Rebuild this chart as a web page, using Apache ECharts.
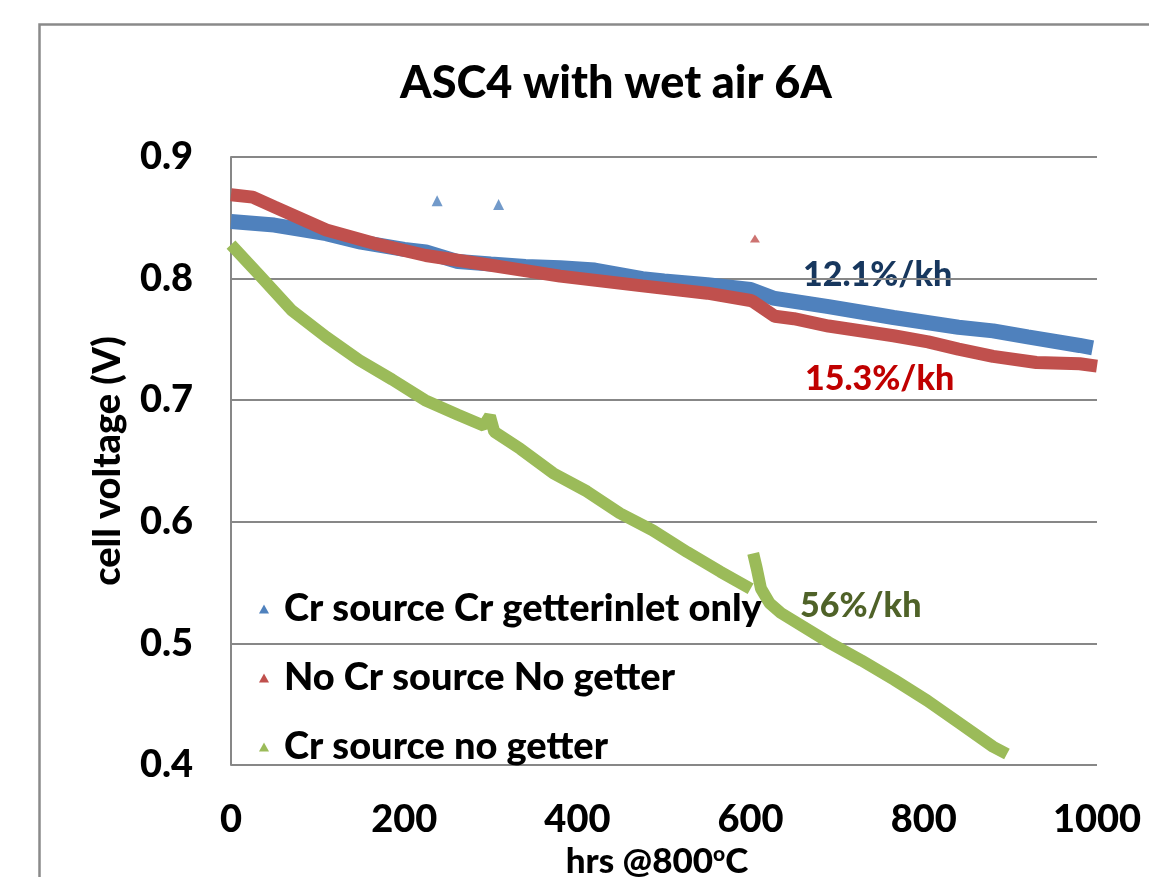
<!DOCTYPE html>
<html>
<head>
<meta charset="utf-8">
<style>
  html, body { margin: 0; padding: 0; background: #fff; }
  #chart { width: 1149px; height: 877px; }
</style>
<script src="https://cdn.jsdelivr.net/npm/echarts@6/dist/echarts.min.js"></script>
</head>
<body>
<div id="chart"></div>
<script>
// series names
var seriesNames = ['Cr source Cr getterinlet only', 'No Cr source No getter', 'Cr source no getter'];

// Cr source, Cr getter inlet only (blue)
var hoursBlue = [0, 50, 110, 150, 200, 225, 262, 300, 340, 380, 420, 475, 500, 550, 600, 626, 690, 765, 840, 880, 920, 980, 995];
var voltBlue = [0.847, 0.844, 0.837, 0.830, 0.824, 0.822, 0.814, 0.812, 0.810, 0.809, 0.807, 0.800, 0.798, 0.795, 0.791, 0.784, 0.777, 0.768, 0.760, 0.757, 0.752, 0.745, 0.743];

// No Cr source, no getter (red)
var hoursRed = [0, 25, 50, 110, 165, 225, 300, 380, 475, 550, 600, 603, 628, 650, 690, 765, 805, 840, 880, 930, 980, 1000];
var voltRed = [0.869, 0.867, 0.859, 0.840, 0.829, 0.819, 0.811, 0.802, 0.794, 0.788, 0.782, 0.781, 0.769, 0.767, 0.761, 0.753, 0.748, 0.742, 0.736, 0.731, 0.730, 0.728];

// Cr source, no getter (green); null marks the restart gap near 600 h
var hoursGreen = [0, 30, 70, 110, 148, 186, 224, 262, 292, 299, 304, 334, 372, 411, 449, 487, 527, 565, 600,
                  601,
                  603, 607, 612, 622, 635, 690, 728, 766, 804, 842, 880, 896];
var voltGreen = [0.828, 0.805, 0.774, 0.752, 0.733, 0.717, 0.700, 0.688, 0.679, 0.687, 0.674, 0.660, 0.640, 0.625, 0.607, 0.593, 0.575, 0.559, 0.545,
                 null,
                 0.574, 0.562, 0.545, 0.533, 0.525, 0.501, 0.486, 0.470, 0.453, 0.434, 0.415, 0.409];

// stray points
var blueOutHours = [238, 309];
var blueOutVolts = [0.864, 0.861];
var redOutHours = [605];
var redOutVolts = [0.833];

var blue = '#4F81BD', red = '#C0504D', green = '#9BBB59';
var gridGray = '#878787';
var font = 'Lato, "Open Sans", sans-serif';

function pairs(xs, ys) {
  return xs.map(function(x, i) { return [x, ys[i] == null ? '-' : ys[i]]; });
}

var chart = echarts.init(document.getElementById('chart'), null, { renderer: 'canvas' });
chart.setOption({
  animation: false,
  backgroundColor: '#fff',
  textStyle: { fontFamily: font },
  title: {
    text: 'ASC4 with wet air 6A',
    left: 611, top: 56, textAlign: 'center',
    textStyle: { fontFamily: font, fontWeight: 900, fontSize: 45, color: '#000' }
  },
  grid: { left: 231, top: 157, right: 52, bottom: 112, containLabel: false, outerBoundsMode: 'none' },
  legend: {
    orient: 'vertical',
    left: 254, top: 585,
    data: seriesNames,
    icon: 'triangle',
    itemWidth: 10, itemHeight: 9,
    itemGap: 31,
    textStyle: { fontFamily: font, fontWeight: 900, fontSize: 38, color: '#000', padding: [0, 0, 0, 10] }
  },
  xAxis: {
    type: 'value', min: 0, max: 1000, interval: 200,
    axisLine: { show: false },
    axisTick: { show: false },
    splitLine: { show: false },
    axisLabel: {
      fontFamily: font, fontWeight: 900, fontSize: 38, color: '#000', margin: 36,
      formatter: function(v) { return String(v); }
    },
    name: 'hrs @800{sup|o}C',
    nameLocation: 'middle', nameGap: 77,
    nameTextStyle: {
      fontFamily: font, fontWeight: 900, fontSize: 35, color: '#000', padding: [0, 14, 0, 0],
      rich: { sup: { fontFamily: font, fontWeight: 900, fontSize: 21, color: '#000', verticalAlign: 'top', padding: [0, 0, 14, 0] } }
    }
  },
  yAxis: {
    type: 'value', min: 0.4, max: 0.9, interval: 0.1,
    axisLine: { show: true, lineStyle: { color: gridGray, width: 2 } },
    axisTick: { show: false },
    splitLine: { show: true, lineStyle: { color: gridGray, width: 2 } },
    axisLabel: {
      fontFamily: font, fontWeight: 900, fontSize: 38, color: '#000', margin: 38,
      formatter: function(v) { return v.toFixed(1); }
    },
    name: 'cell voltage (V)',
    nameLocation: 'middle', nameGap: 104,
    nameTextStyle: { fontFamily: font, fontWeight: 900, fontSize: 38, color: '#000' }
  },
  series: [
    {
      name: seriesNames[0], type: 'line', showSymbol: false, clip: false,
      data: pairs(hoursBlue, voltBlue),
      itemStyle: { color: blue },
      lineStyle: { color: blue, width: 15 }
    },
    {
      name: seriesNames[1], type: 'line', showSymbol: false, clip: false,
      data: pairs(hoursRed, voltRed),
      itemStyle: { color: red },
      lineStyle: { color: red, width: 13 }
    },
    {
      name: seriesNames[2], type: 'line', showSymbol: false, clip: false,
      connectNulls: false,
      data: pairs(hoursGreen, voltGreen),
      itemStyle: { color: green },
      lineStyle: { color: green, width: 12 }
    },
    {
      name: 'blue stray', type: 'scatter', symbol: 'triangle', symbolSize: 11,
      data: pairs(blueOutHours, blueOutVolts),
      itemStyle: { color: blue }
    },
    {
      name: 'red stray', type: 'scatter', symbol: 'triangle', symbolSize: [10, 8],
      data: pairs(redOutHours, redOutVolts),
      itemStyle: { color: red }
    }
  ],
  graphic: [
    // outer chart frame (runs off the page on the right and bottom)
    { type: 'rect', left: 37, top: 22, shape: { width: 1200, height: 900 }, style: { fill: 'none', stroke: '#8a8a8a', lineWidth: 2.5 }, z: -10 },
    { type: 'text', left: 803, top: 258, style: { text: '12.1%/kh', fill: '#17375E', font: '900 34px ' + font } },
    { type: 'text', left: 805, top: 362, style: { text: '15.3%/kh', fill: '#C00000', font: '900 34px ' + font } },
    { type: 'text', left: 800, top: 589, style: { text: '56%/kh', fill: '#4F6228', font: '900 34px ' + font } }
  ]
});
window.addEventListener('resize', function() { chart.resize(); });
</script>
</body>
</html>
